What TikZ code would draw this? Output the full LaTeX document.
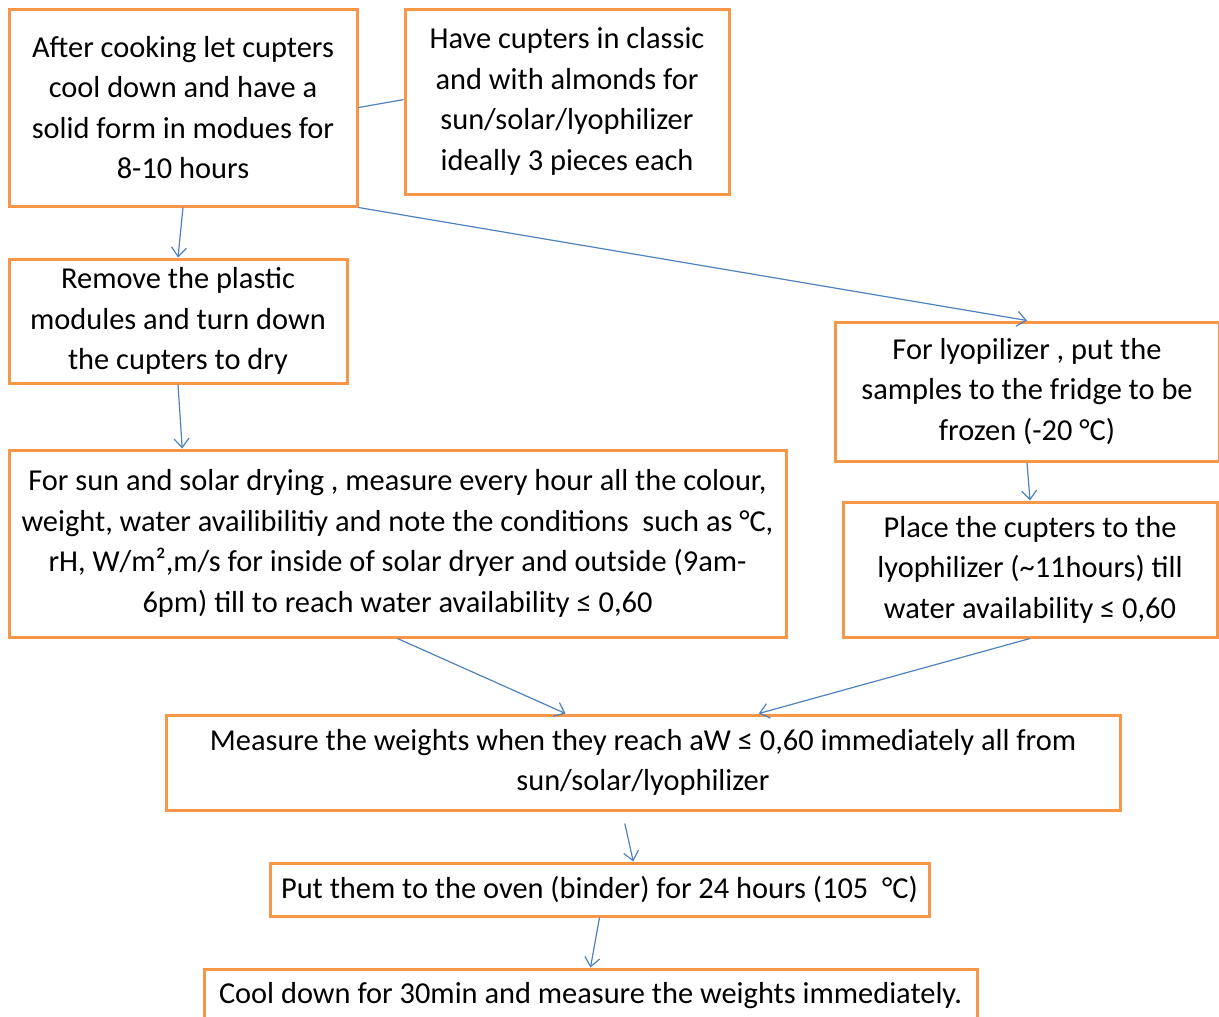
\documentclass[tikz,border=0pt]{standalone}
\usepackage{fontspec}
\setmainfont{Carlito}
\usetikzlibrary{arrows.meta,calc}
\definecolor{boxorange}{HTML}{F79646}
\definecolor{arrowblue}{HTML}{4F81BD}
\tikzset{
  stepbox/.style={draw=boxorange, line width=3pt, fill=white, align=center, inner sep=0pt,
    font=\fontsize{30.4}{40.5}\selectfont},
  flow/.style={draw=arrowblue, line width=1.2pt, -{Straight Barb[length=9pt,width=15pt,line width=1.2pt]}},
  plain/.style={draw=arrowblue, line width=1.2pt}
}
\begin{document}
\begin{tikzpicture}[x=1pt,y=-1pt]
\useasboundingbox (0,0) rectangle (1219,1017);
\node[stepbox, minimum width=348pt, minimum height=197pt] (A) at (183,107.5)
  {After cooking let cupters\\cool down and have a\\solid form in modues for\\8-10 hours};
\node[stepbox, minimum width=324pt, minimum height=185pt] (B) at (567,101.5)
  {Have cupters in classic\\and with almonds for\\sun/solar/lyophilizer\\ideally 3 pieces each};
\node[stepbox, minimum width=338pt, minimum height=124pt] (C) at (178,321)
  {Remove the plastic\\modules and turn down\\the cupters to dry};
\node[stepbox, minimum width=384pt, minimum height=139pt] (D) at (1027,391.5)
  {For lyopilizer , put the\\samples to the fridge to be\\frozen (-20 °C)};
\node[stepbox, minimum width=777pt, minimum height=187pt] (E) at (397.5,543.5)
  {For sun and solar drying , measure every hour all the colour,\\weight, water availibilitiy and note the conditions \ such as °C,\\rH, W/m²,m/s for inside of solar dryer and outside (9am-\\6pm) till to reach water availability ≤ 0,60};
\node[stepbox, minimum width=374pt, minimum height=135pt] (F) at (1030,569.5)
  {Place the cupters to the\\lyophilizer (\textasciitilde 11hours) till\\water availability ≤ 0,60};
\node[stepbox, minimum width=954pt, minimum height=95pt] (G) at (643,762.5)
  {Measure the weights when they reach aW ≤ 0,60 immediately all from\\sun/solar/lyophilizer};
\node[stepbox, minimum width=659pt, minimum height=53pt] (H) at (599.5,889.5)
  {Put them to the oven (binder) for 24 hours (105 \ °C)};
\node[stepbox, minimum width=773pt, minimum height=54pt] (I) at (590.5,996)
  {Cool down for 30min and measure the weights immediately.};
% connectors
\draw[plain] ($(A.north east)!0.5!(A.south east)$) -- ($(B.north west)!0.49!(B.south west)$);
\draw[flow] ($(A.south west)!0.5!(A.south east)$) -- ($(C.north west)!0.50!(C.north east)$);
\draw[flow] (A.south east) -- ($(D.north west)!0.50!(D.north east)$);
\draw[flow] ($(C.south west)!0.50!(C.south east)$) -- ($(E.north west)!0.224!(E.north east)$);
\draw[flow] ($(D.south west)!0.50!(D.south east)$) -- ($(F.north west)!0.50!(F.north east)$);
\draw[flow] ($(E.south west)!0.50!(E.south east)$) -- ($(G.north west)!0.419!(G.north east)$);
\draw[flow] ($(F.south west)!0.50!(F.south east)$) -- ($(G.north west)!0.621!(G.north east)$);
\draw[flow] ($(G.south west)!0.481!(G.south east)+(0,12)$) -- ($(H.north west)!0.551!(H.north east)$);
\draw[flow] ($(H.south west)!0.5!(H.south east)$) -- ($(I.north west)!0.5!(I.north east)$);
\end{tikzpicture}
\end{document}
